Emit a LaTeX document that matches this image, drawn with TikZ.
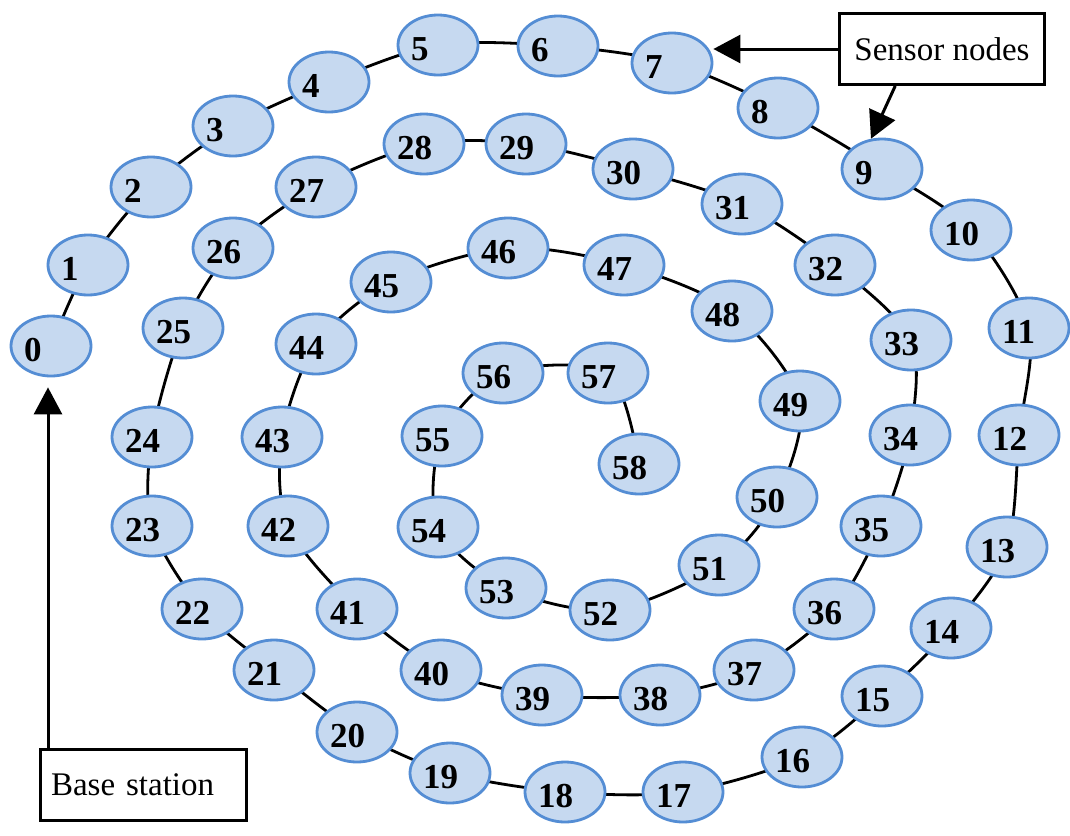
\documentclass[tikz,border=0pt]{standalone}
\usepackage{fontspec}
\setmainfont{Liberation Serif}
\usetikzlibrary{arrows.meta,backgrounds,calc,shapes.geometric}
\definecolor{nodefill}{RGB}{198,217,240}
\definecolor{nodeline}{RGB}{84,141,212}
\begin{document}
\begin{tikzpicture}[x=1pt,y=-1pt,
  sn/.style={ellipse, draw=nodeline, fill=nodefill, line width=2.8pt,
    minimum width=80pt, minimum height=60pt, inner sep=0pt,
    text width=54pt, text height=31pt, text depth=0pt, align=left,
    font=\fontsize{35}{36}\selectfont\bfseries},
  link/.style={line width=2.8pt, black},
  arr/.style={line width=3pt, -{Triangle[length=27pt,width=28pt]}},
  lbl/.style={draw, line width=3pt, font=\fontsize{33}{40}\selectfont, fill=white}]
\useasboundingbox (0,0) rectangle (1070,835);
\foreach \i/\x/\y in {
 0/51/346, 1/88/265, 2/151/187, 3/233/126, 4/329/82, 5/438/45, 6/558/46,
 7/672/63, 8/778/108, 9/882/169, 10/971/230, 11/1029/328, 12/1019/435,
 13/1007/547, 14/951/628, 15/882/696, 16/802/757, 17/683/792, 18/565/792,
 19/450/773, 20/357/732, 21/274/670, 22/202/609, 23/152/526, 24/152/437,
 25/183/328, 26/233/248, 27/316/187, 28/424/144, 29/526/144, 30/633/169,
 31/742/204, 32/835/265, 33/911/340, 34/910/435, 35/881/526, 36/834/609,
 37/754/670, 38/660/695, 39/542/695, 40/441/670, 41/357/609, 42/288/526,
 43/282/437, 44/316/344, 45/391/282, 46/508/248, 47/624/265, 48/732/311,
 49/800/401, 50/777/497, 51/719/565, 52/610/610, 53/506/588, 54/438/527,
 55/442/436, 56/503/373, 57/608/373, 58/639/464}
  \node[sn] (n\i) at (\x,\y) {\i};
\begin{scope}[on background layer]
  \fill[white] (0,0) rectangle (1070,835);
  \draw[link] plot[smooth, tension=0.5] coordinates {
    (n0.center) (n1.center) (n2.center) (n3.center) (n4.center) (n5.center)
    (n6.center) (n7.center) (n8.center) (n9.center) (n10.center) (n11.center)
    (n12.center) (n13.center) (n14.center) (n15.center) (n16.center) (n17.center)
    (n18.center) (n19.center) (n20.center) (n21.center) (n22.center) (n23.center)
    (n24.center) (n25.center) (n26.center) (n27.center) (n28.center) (n29.center)
    (n30.center) (n31.center) (n32.center) (n33.center) (n34.center) (n35.center)
    (n36.center) (n37.center) (n38.center) (n39.center) (n40.center) (n41.center)
    (n42.center) (n43.center) (n44.center) (n45.center) (n46.center) (n47.center)
    (n48.center) (n49.center) (n50.center) (n51.center) (n52.center) (n53.center)
    (n54.center) (n55.center) (n56.center) (n57.center) (n58.center)};
\end{scope}
\node[lbl, minimum width=205pt, minimum height=71pt] (sens) at (942,49) {Sensor nodes};
\node[lbl, minimum width=206pt, minimum height=71pt, text width=185pt,
  align=left, inner xsep=10pt] (bs) at (143.5,785) {Base station};
\draw[arr] (sens.west) -- (sens.west -| n7.east);
\draw[arr] ($(sens.south west)!0.275!(sens.south east)$) -- (n9.110);
\draw[arr] ([xshift=9pt]bs.north west) -- ([xshift=9pt,yshift=-10pt]bs.north west |- n0.south);
\end{tikzpicture}
\end{document}
